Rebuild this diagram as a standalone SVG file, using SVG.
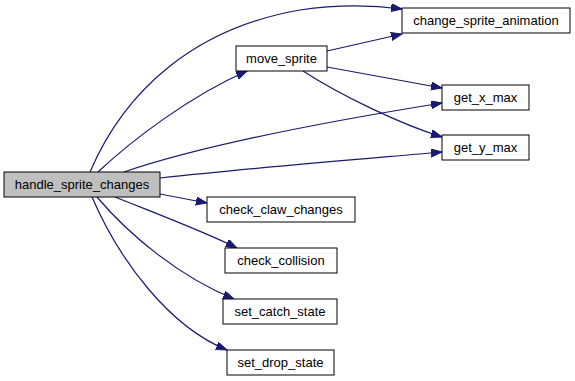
<svg xmlns="http://www.w3.org/2000/svg" width="575" height="381" viewBox="0 0 575 381">
  <style>
    .node rect { fill: #ffffff; stroke: #000000; stroke-width: 1; }
    .node.root rect { fill: #bfbfbf; }
    .node text { font-family: "Liberation Sans", Arial, Helvetica, sans-serif; font-size: 13px; fill: #000000; text-anchor: middle; dominant-baseline: central; }
    .edge { fill: none; stroke: #191970; stroke-width: 1.2; marker-end: url(#arrow); }
  </style>
  <defs>
    <marker id="arrow" markerUnits="userSpaceOnUse" markerWidth="12" markerHeight="10" refX="11" refY="4" orient="auto">
      <path d="M0,0 L11,4 L0,8 z" fill="#191970" stroke="#191970" stroke-width="1"/>
    </marker>
  </defs>
  <rect width="575" height="381" fill="#ffffff"/>

  <g id="edges">
    <path class="edge" d="M90,172 C125,90 195,28 300,10 C340,4 372,5 402,9"/>
    <path class="edge" d="M98,172 C132,140 190,96 247,71"/>
    <path class="edge" d="M124,172 C200,146 330,121 442,103"/>
    <path class="edge" d="M160,178 C250,168 350,160 442,152"/>
    <path class="edge" d="M160,194 L207,203"/>
    <path class="edge" d="M115,197 C160,215 205,232 237,248"/>
    <path class="edge" d="M97,197 C130,236 180,277 234,299"/>
    <path class="edge" d="M92,197 C120,262 170,327 227,350"/>
    <path class="edge" d="M327,51 L402,34"/>
    <path class="edge" d="M327,67 L442,88"/>
    <path class="edge" d="M303,71 C340,95 400,124 442,137"/>
  </g>

  <g id="handle_sprite_changes" class="node root">
    <rect x="4" y="172" width="156" height="25"/>
    <text x="82" y="184.5">handle_sprite_changes</text>
  </g>
  <g id="move_sprite" class="node">
    <rect x="236" y="46" width="91" height="25"/>
    <text x="281.5" y="58.5">move_sprite</text>
  </g>
  <g id="change_sprite_animation" class="node">
    <rect x="402" y="8" width="168" height="25"/>
    <text x="486" y="20.5">change_sprite_animation</text>
  </g>
  <g id="get_x_max" class="node">
    <rect x="442" y="85" width="87" height="25"/>
    <text x="485.5" y="97.5">get_x_max</text>
  </g>
  <g id="get_y_max" class="node">
    <rect x="442" y="135" width="87" height="25"/>
    <text x="485.5" y="147.5">get_y_max</text>
  </g>
  <g id="check_claw_changes" class="node">
    <rect x="207" y="197" width="148" height="25"/>
    <text x="281" y="209.5">check_claw_changes</text>
  </g>
  <g id="check_collision" class="node">
    <rect x="225" y="248" width="112" height="25"/>
    <text x="281" y="260.5">check_collision</text>
  </g>
  <g id="set_catch_state" class="node">
    <rect x="223" y="299" width="114" height="25"/>
    <text x="280" y="311.5">set_catch_state</text>
  </g>
  <g id="set_drop_state" class="node">
    <rect x="227" y="350" width="107" height="25"/>
    <text x="280.5" y="362.5">set_drop_state</text>
  </g>
</svg>
